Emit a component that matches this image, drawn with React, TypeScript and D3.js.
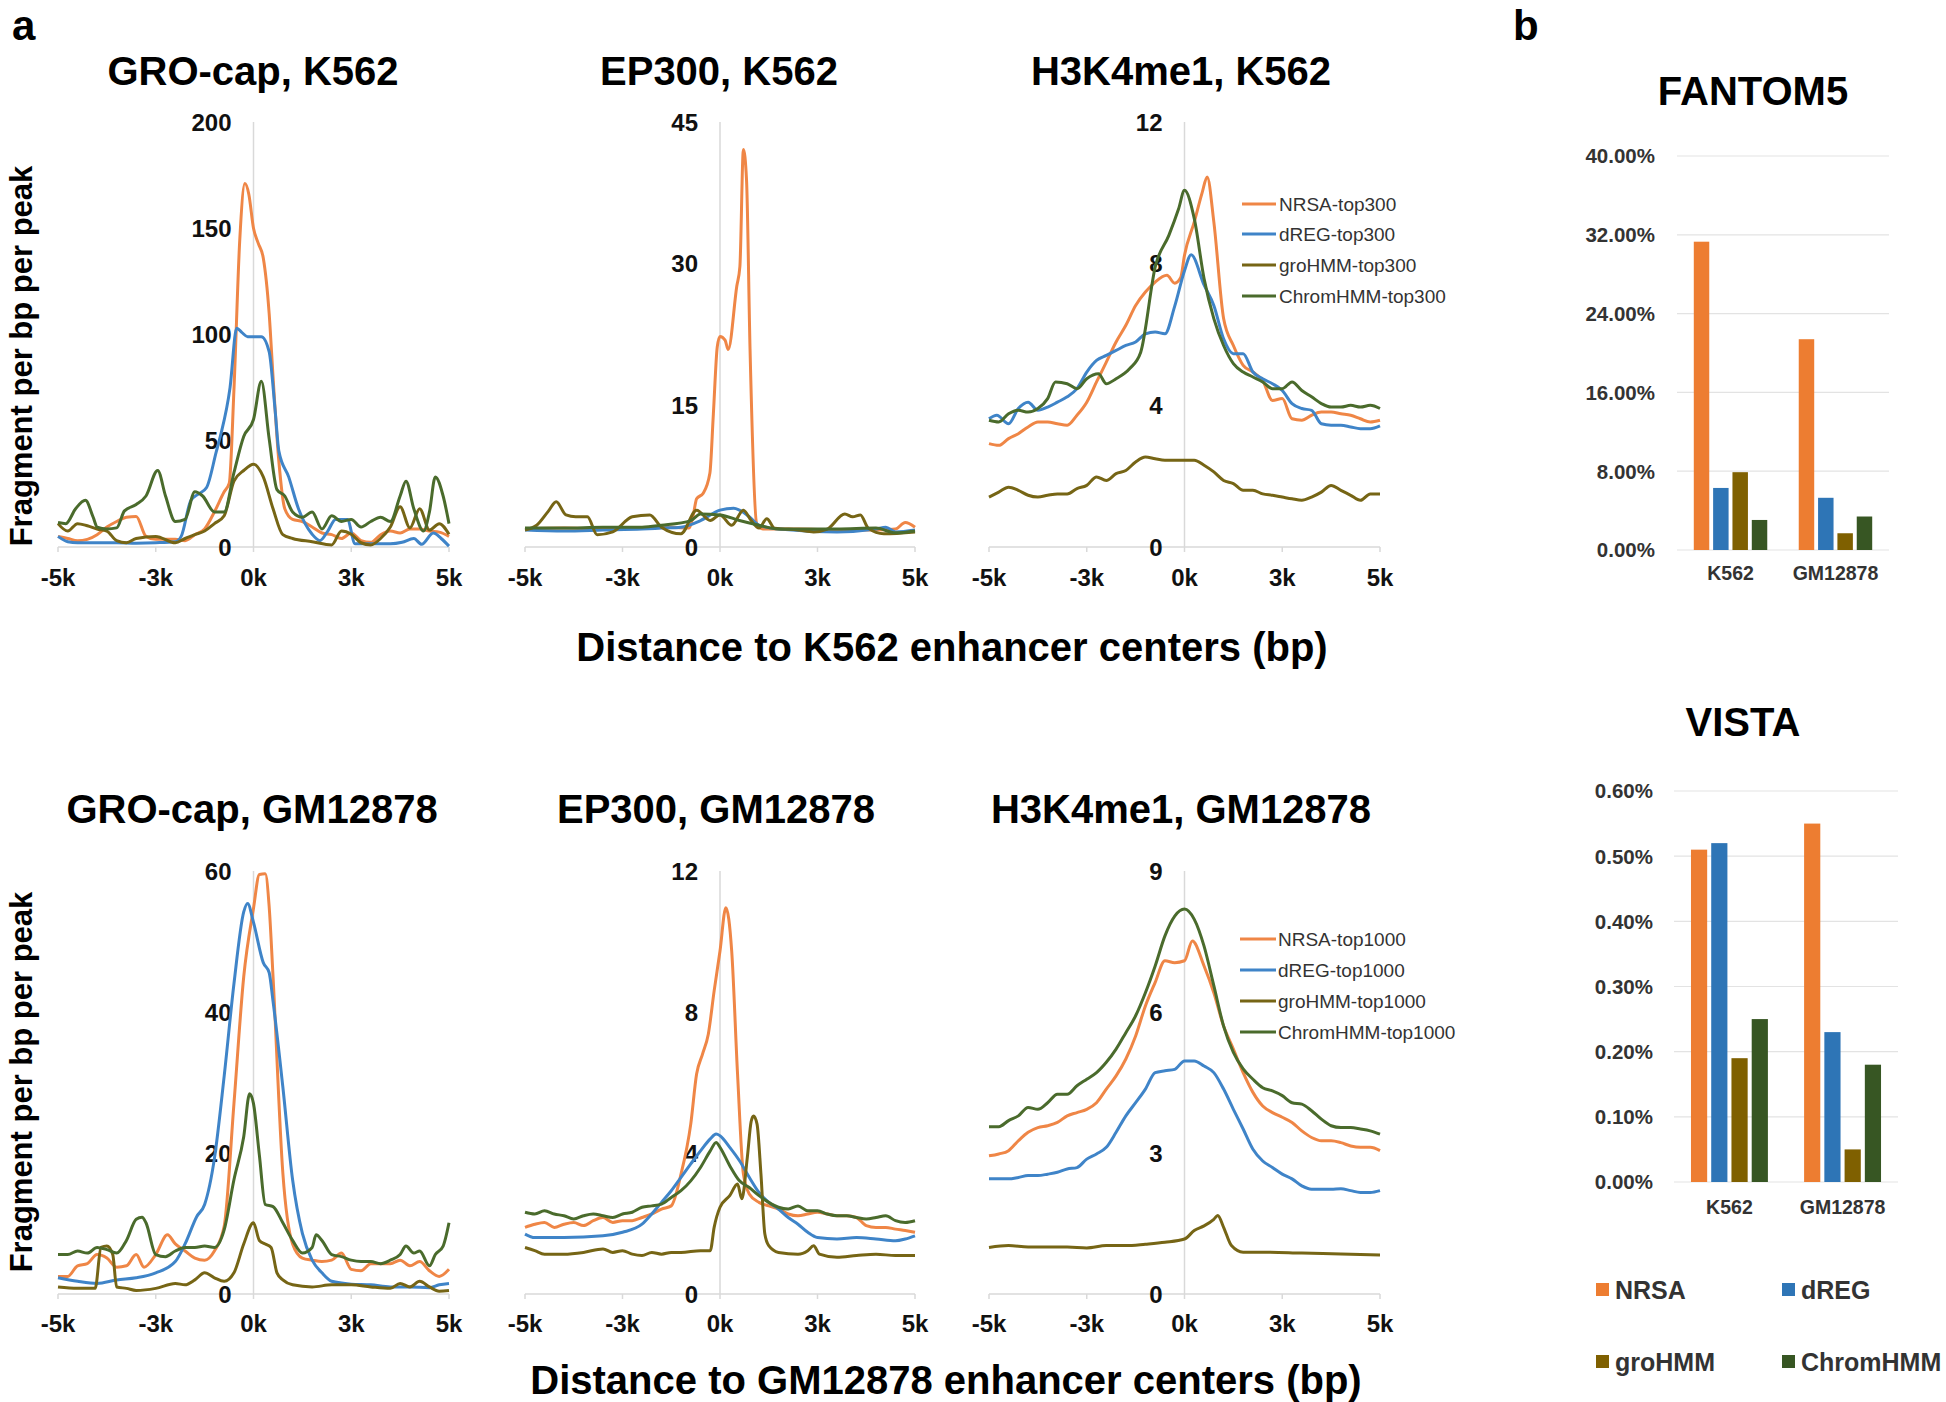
import React from "react";
import * as d3 from "d3";

const FONT = '"Liberation Sans", Arial, Helvetica, sans-serif';

const SERIES = ["NRSA", "dREG", "groHMM", "ChromHMM"];
const LINE_COLORS = ["#EF8646", "#3F84C8", "#766515", "#4A6B2C"];
const BAR_COLORS = ["#ED7D31", "#2E75B6", "#7F6000", "#375623"];

const X_TICKS = [-5, -2.5, 0, 2.5, 5];
const X_TICK_LABELS = ["-5k", "-3k", "0k", "3k", "5k"];

type P = [number, number];

// ---- GRO-cap, K562 ----
const GRO_K562_NRSA: P[] = [[-5,4.9],[-4.75,4],[-4.5,3],[-4.25,3.6],[-4,5.8],[-3.75,9.4],[-3.5,12],[-3.25,14],[-3.0,14.4],[-2.75,5],[-2.5,3.6],[-2,3.6],[-1.75,3],[-1.5,5.8],[-1.25,8.5],[-1,16.5],[-0.75,26],[-0.62,30],[-0.5,74],[-0.35,145],[-0.22,171],[-0.12,166],[0,150],[0.12,143],[0.25,136],[0.4,110],[0.5,80],[0.65,40],[0.8,18],[1,13],[1.25,12],[1.5,9.4],[1.75,6.6],[2,5.8],[2.25,4],[2.5,6.6],[2.75,3],[3,2.2],[3.25,5.8],[3.5,7.5],[3.75,6.6],[4,8.5],[4.25,8.5],[4.5,7.5],[4.75,7],[5,5]];
const GRO_K562_DREG: P[] = [[-5,5],[-4.75,2.5],[-4.5,2],[-4,2],[-3.5,2],[-3,1.8],[-2.5,2],[-2,2.5],[-1.85,5],[-1.6,22],[-1.4,25],[-1.2,28],[-0.95,45],[-0.85,52],[-0.6,75],[-0.43,103],[-0.3,101],[-0.15,99],[0,99],[0.2,99],[0.4,92],[0.55,65],[0.65,45],[0.9,33],[1.15,18],[1.5,6],[1.7,3],[1.9,7.5],[2.1,13],[2.4,13],[2.6,1.5],[3,1.5],[3.5,1.5],[3.8,2.2],[4.1,4],[4.3,1.3],[4.6,6.6],[4.8,4],[5,0.4]];
const GRO_K562_GROHMM: P[] = [[-5,11],[-4.75,7.5],[-4.5,11],[-4.25,10],[-4,8.5],[-3.75,7.5],[-3.5,3],[-3.25,2],[-3,4],[-2.5,5],[-2,2],[-1.75,4],[-1.5,5.8],[-1.25,7.5],[-1,11],[-0.75,14.7],[-0.5,31],[-0.25,36],[0,39],[0.25,33],[0.5,18],[0.75,5.8],[1,4],[1.5,2.5],[2,1],[2.25,7.5],[2.5,6],[2.75,2],[3,1],[3.25,4],[3.5,9.4],[3.75,19],[4,9],[4.25,18],[4.5,8],[4.75,11],[5,6]];
const GRO_K562_CHROM: P[] = [[-5,11.5],[-4.8,11],[-4.55,18],[-4.3,22],[-4.1,14],[-4,9.4],[-3.75,8.5],[-3.5,9],[-3.3,17],[-3.0,20],[-2.75,24],[-2.45,36],[-2.25,24],[-2,12],[-1.75,13],[-1.5,26],[-1.3,24],[-1,16.5],[-0.75,16.5],[-0.5,35],[-0.25,52],[0,60],[0.2,78],[0.4,51],[0.6,27],[0.8,24],[1,16.5],[1.25,14],[1.5,16.5],[1.75,8.5],[2,14.7],[2.25,12],[2.5,13],[2.75,9.4],[3,12],[3.25,14],[3.5,12],[3.75,24],[3.9,31],[4.1,18],[4.35,7.5],[4.5,16.5],[4.65,33],[4.85,24],[5,11]];

// ---- EP300, K562 ----
const EP_K562_NRSA: P[] = [[-5,1.9],[-4,2.0],[-3,1.9],[-2,2.0],[-1.25,2.1],[-0.8,2.0],[-0.68,3.5],[-0.6,5.1],[-0.43,5.7],[-0.26,7.8],[-0.17,14.1],[-0.07,21.2],[0,22.3],[0.13,21.9],[0.21,20.9],[0.43,27.6],[0.51,29.7],[0.6,42.1],[0.68,38.9],[0.77,21],[0.94,2.5],[1.1,1.9],[2,1.9],[3,1.8],[4,1.8],[4.5,1.9],[4.75,2.6],[5,2.1]];
const EP_K562_DREG: P[] = [[-5,1.8],[-4,1.7],[-3,1.8],[-2,1.9],[-1.5,2.0],[-1,2.1],[-0.5,2.8],[0,3.9],[0.35,4.1],[0.5,3.9],[0.75,3.2],[1,2.3],[1.5,1.9],[3,1.6],[4,1.9],[4.25,2.1],[4.5,1.6],[5,1.8]];
const EP_K562_GROHMM: P[] = [[-5,1.8],[-4.7,2.3],[-4.4,3.8],[-4.2,4.8],[-3.95,3.4],[-3.7,3.2],[-3.4,3.2],[-3.15,1.3],[-2.75,1.6],[-2.25,3.2],[-1.8,3.4],[-1.5,2.1],[-1.0,1.4],[-0.6,3.9],[-0.25,2.8],[0,3.4],[0.3,2.3],[0.6,3.9],[0.8,2.8],[1.0,2.0],[1.2,3.0],[1.4,2.0],[2,1.8],[2.4,1.6],[2.75,1.9],[3.2,3.5],[3.4,3.2],[3.6,3.4],[3.8,2.0],[4.2,1.4],[5,1.6]];
const EP_K562_CHROM: P[] = [[-5,2.0],[-4,2.0],[-3,2.1],[-2,2.1],[-1.5,2.3],[-0.75,2.8],[-0.5,3.5],[0,3.4],[0.5,2.8],[1,2.3],[1.5,1.9],[3,1.9],[4,2.0],[4.5,1.5],[5,1.7]];

// ---- H3K4me1, K562 ----
const H3_K562_NRSA: P[] = [[-5,2.92],[-4.75,2.87],[-4.5,3.06],[-4.25,3.2],[-4,3.39],[-3.75,3.53],[-3.5,3.53],[-3.25,3.48],[-3,3.44],[-2.75,3.72],[-2.5,4.09],[-2.25,4.66],[-2,5.22],[-1.75,5.79],[-1.5,6.26],[-1.25,6.82],[-1,7.2],[-0.75,7.48],[-0.45,7.67],[-0.25,7.45],[-0.1,7.6],[0,8.24],[0.25,9.18],[0.45,10.0],[0.58,10.45],[0.75,9.18],[1,6.45],[1.25,5.69],[1.5,5.13],[1.75,4.94],[2,4.7],[2.25,4.14],[2.5,4.19],[2.75,3.62],[3,3.58],[3.25,3.72],[3.5,3.81],[3.75,3.81],[4,3.76],[4.25,3.72],[4.5,3.62],[4.75,3.53],[5,3.58]];
const H3_K562_DREG: P[] = [[-5,3.62],[-4.8,3.72],[-4.5,3.48],[-4.25,3.91],[-4,4.09],[-3.75,3.86],[-3.5,3.95],[-3.25,4.09],[-3,4.24],[-2.75,4.47],[-2.5,4.94],[-2.25,5.27],[-2,5.41],[-1.75,5.55],[-1.5,5.69],[-1.25,5.79],[-1,6.02],[-0.75,6.07],[-0.5,6.02],[-0.25,6.8],[0,7.8],[0.17,8.25],[0.5,7.4],[0.75,6.82],[1,5.88],[1.25,5.46],[1.5,5.46],[1.75,4.94],[2,4.75],[2.25,4.61],[2.5,4.42],[2.75,4.05],[3,3.91],[3.25,3.86],[3.5,3.48],[3.75,3.44],[4,3.44],[4.25,3.39],[4.5,3.34],[4.75,3.34],[5,3.42]];
const H3_K562_GROHMM: P[] = [[-5,1.41],[-4.75,1.55],[-4.5,1.69],[-4.25,1.6],[-4,1.46],[-3.75,1.41],[-3.5,1.46],[-3.25,1.5],[-3,1.5],[-2.75,1.65],[-2.5,1.74],[-2.25,1.98],[-2,1.88],[-1.75,2.07],[-1.5,2.16],[-1.25,2.4],[-1,2.54],[-0.75,2.49],[-0.5,2.45],[-0.25,2.45],[0,2.45],[0.25,2.45],[0.5,2.31],[0.75,2.12],[1,1.88],[1.25,1.79],[1.5,1.6],[1.75,1.6],[2,1.5],[2.25,1.46],[2.5,1.41],[2.75,1.36],[3,1.32],[3.25,1.41],[3.5,1.55],[3.75,1.74],[4,1.6],[4.25,1.46],[4.5,1.32],[4.75,1.5],[5,1.5]];
const H3_K562_CHROM: P[] = [[-5,3.58],[-4.75,3.53],[-4.5,3.76],[-4.25,3.86],[-4,3.81],[-3.75,3.91],[-3.5,4.19],[-3.3,4.66],[-3,4.61],[-2.75,4.47],[-2.5,4.75],[-2.2,4.89],[-2,4.61],[-1.75,4.75],[-1.4,5.04],[-1.12,5.5],[-0.74,7.95],[-0.4,8.8],[-0.15,9.55],[0,10.07],[0.25,9.27],[0.5,7.58],[0.75,6.45],[1,5.69],[1.25,5.18],[1.5,4.94],[1.75,4.8],[2,4.66],[2.25,4.47],[2.5,4.47],[2.75,4.66],[3,4.42],[3.25,4.24],[3.5,4.05],[3.75,3.95],[4,3.95],[4.25,4.0],[4.5,3.95],[4.75,4.0],[5,3.91]];

// ---- GRO-cap, GM12878 ----
const GRO_GM_NRSA: P[] = [[-5,2.5],[-4.75,2.5],[-4.5,4],[-4.25,4.3],[-4,5.6],[-3.75,5.1],[-3.5,3.8],[-3.25,4],[-3,5.6],[-2.8,3.8],[-2.5,5.6],[-2.2,8.4],[-2,7.1],[-1.75,6.1],[-1.5,5.1],[-1.25,4.8],[-1,6.1],[-0.75,9.6],[-0.5,27],[-0.25,45],[0,54.7],[0.15,59.5],[0.3,59.6],[0.4,55],[0.5,45],[0.75,17.2],[1,7.1],[1.25,5.1],[1.5,4.8],[1.75,4.6],[2,4.8],[2.25,5.8],[2.5,3.5],[2.75,3.3],[3,4.3],[3.25,4.3],[3.5,4.3],[3.75,4.8],[4,4],[4.25,4.6],[4.5,3.3],[4.75,2.5],[5,3.5]];
const GRO_GM_DREG: P[] = [[-5,2.3],[-4.5,1.8],[-4,1.5],[-3.5,2],[-3,2.3],[-2.5,3],[-2,4.6],[-1.75,7.1],[-1.45,11],[-1.25,12.7],[-1,19.2],[-0.75,30.9],[-0.5,44],[-0.25,54.2],[-0.15,55.4],[0,52.7],[0.25,47],[0.4,45.6],[0.5,41.5],[0.75,29.4],[1,16.2],[1.25,8.6],[1.5,4.8],[1.75,3],[2,1.8],[2.5,1.4],[3,1.3],[3.5,1],[4,1],[4.5,0.9],[4.75,1.3],[5,1.5]];
const GRO_GM_GROHMM: P[] = [[-5,1],[-4.5,0.8],[-4.05,0.8],[-3.9,6.6],[-3.75,6.8],[-3.6,5.6],[-3.5,1],[-3.25,0.8],[-3,0.5],[-2.5,0.8],[-2,1.5],[-1.75,1.3],[-1.5,2],[-1.25,3],[-1,2.3],[-0.75,1.8],[-0.5,3],[-0.25,7.1],[0,10.1],[0.15,7.6],[0.3,7.1],[0.45,6.6],[0.6,3],[0.75,2],[1,1.3],[1.5,1],[2,1.3],[2.5,1.3],[3,1],[3.5,0.8],[3.75,1.5],[4,1],[4.25,1.8],[4.5,1],[4.75,0.4],[5,0.5]];
const GRO_GM_CHROM: P[] = [[-5,5.6],[-4.75,5.6],[-4.5,6.1],[-4.25,5.8],[-4,6.6],[-3.75,6.3],[-3.5,5.8],[-3.25,7.6],[-3,10.6],[-2.85,10.9],[-2.75,10.1],[-2.5,5.6],[-2.25,5.3],[-2,6.1],[-1.75,6.6],[-1.5,6.6],[-1.25,6.8],[-1,6.6],[-0.75,9.1],[-0.5,16.2],[-0.25,22.3],[-0.1,28.4],[0,27],[0.15,19.7],[0.3,12.7],[0.5,12.4],[0.75,10.1],[1,7.6],[1.25,5.8],[1.5,6.6],[1.6,8.4],[1.75,7.6],[2,5.6],[2.25,5.3],[2.5,4.8],[2.75,4.6],[3,4.6],[3.25,4.3],[3.5,4.8],[3.75,5.6],[3.9,6.8],[4.1,5.8],[4.25,6.1],[4.5,4],[4.65,5.6],[4.85,6.8],[5,10.1]];

// ---- EP300, GM12878 ----
const EP_GM_NRSA: P[] = [[-5,1.89],[-4.75,1.98],[-4.5,2.03],[-4.25,1.89],[-4,1.98],[-3.75,2.03],[-3.5,1.94],[-3.25,2.08],[-3,2.17],[-2.75,2.03],[-2.5,2.08],[-2.25,2.08],[-2,2.17],[-1.75,2.27],[-1.5,2.41],[-1.25,2.5],[-1,3.4],[-0.75,4.82],[-0.6,6.24],[-0.45,6.8],[-0.3,7.37],[-0.15,8.6],[0,9.73],[0.15,10.96],[0.3,9.73],[0.45,6.24],[0.6,3.4],[0.75,2.84],[1,2.6],[1.25,2.5],[1.5,2.41],[1.75,2.27],[2,2.22],[2.25,2.27],[2.5,2.32],[2.75,2.27],[3,2.22],[3.25,2.22],[3.5,2.17],[3.75,1.94],[4,1.89],[4.25,1.89],[4.5,1.84],[4.75,1.8],[5,1.75]];
const EP_GM_DREG: P[] = [[-5,1.7],[-4.75,1.6],[-4,1.6],[-3,1.65],[-2.5,1.75],[-2,1.98],[-1.75,2.27],[-1.5,2.6],[-1.25,2.93],[-1,3.31],[-0.75,3.69],[-0.5,4.06],[-0.25,4.4],[-0.1,4.54],[0,4.49],[0.25,4.16],[0.5,3.78],[0.75,3.31],[1,2.88],[1.25,2.6],[1.5,2.41],[1.75,2.17],[2,1.98],[2.25,1.75],[2.5,1.6],[3,1.56],[3.5,1.6],[4,1.56],[4.5,1.51],[4.75,1.56],[5,1.65]];
const EP_GM_GROHMM: P[] = [[-5,1.32],[-4.75,1.23],[-4.5,1.13],[-4,1.13],[-3.5,1.18],[-3,1.28],[-2.75,1.18],[-2.5,1.23],[-2.25,1.13],[-2,1.09],[-1.75,1.18],[-1.5,1.13],[-1.25,1.18],[-1,1.18],[-0.5,1.23],[-0.25,1.23],[-0.15,1.89],[0,2.46],[0.25,2.79],[0.45,3.12],[0.56,2.7],[0.7,3.87],[0.8,4.9],[0.86,5.05],[0.95,4.82],[1.05,3.4],[1.15,1.7],[1.25,1.37],[1.5,1.18],[2,1.13],[2.25,1.23],[2.4,1.37],[2.55,1.13],[3,1.04],[3.5,1.09],[4,1.13],[4.5,1.09],[5,1.09]];
const EP_GM_CHROM: P[] = [[-5,2.32],[-4.75,2.27],[-4.5,2.36],[-4.25,2.27],[-4,2.22],[-3.75,2.13],[-3.5,2.22],[-3.25,2.27],[-3,2.22],[-2.75,2.17],[-2.5,2.27],[-2.25,2.32],[-2,2.46],[-1.75,2.5],[-1.5,2.55],[-1.25,2.74],[-1,2.93],[-0.75,3.21],[-0.5,3.59],[-0.25,4.06],[-0.1,4.3],[0,4.16],[0.25,3.64],[0.5,3.21],[0.75,3.02],[1,2.79],[1.25,2.6],[1.5,2.46],[1.75,2.41],[2,2.5],[2.25,2.36],[2.5,2.36],[2.75,2.27],[3,2.22],[3.25,2.22],[3.5,2.17],[3.75,2.13],[4,2.17],[4.25,2.22],[4.5,2.08],[4.75,2.03],[5,2.08]];

// ---- H3K4me1, GM12878 ----
const H3_GM_NRSA: P[] = [[-5,2.94],[-4.75,2.98],[-4.5,3.05],[-4.25,3.26],[-4,3.44],[-3.75,3.54],[-3.5,3.58],[-3.25,3.65],[-3,3.79],[-2.75,3.86],[-2.5,3.93],[-2.25,4.07],[-2,4.36],[-1.75,4.64],[-1.5,5.0],[-1.25,5.49],[-1,6.13],[-0.75,6.63],[-0.5,7.09],[-0.25,7.05],[0,7.09],[0.2,7.51],[0.5,6.98],[0.75,6.41],[1,5.7],[1.25,5.21],[1.5,4.71],[1.75,4.29],[2,4.0],[2.25,3.86],[2.5,3.76],[2.75,3.65],[3,3.47],[3.25,3.33],[3.5,3.26],[3.75,3.26],[4,3.22],[4.25,3.15],[4.5,3.12],[4.75,3.12],[5,3.05]];
const H3_GM_DREG: P[] = [[-5,2.45],[-4.75,2.45],[-4.5,2.45],[-4.25,2.48],[-4,2.52],[-3.75,2.52],[-3.5,2.55],[-3.25,2.59],[-3,2.66],[-2.75,2.69],[-2.5,2.87],[-2.25,2.98],[-2,3.12],[-1.75,3.44],[-1.5,3.79],[-1.25,4.07],[-1,4.36],[-0.75,4.71],[-0.5,4.75],[-0.25,4.78],[0,4.96],[0.25,4.96],[0.5,4.85],[0.75,4.71],[1,4.36],[1.25,3.93],[1.5,3.51],[1.75,3.08],[2,2.83],[2.25,2.69],[2.5,2.55],[2.75,2.45],[3,2.3],[3.25,2.23],[3.5,2.23],[3.75,2.23],[4,2.24],[4.25,2.2],[4.5,2.16],[4.75,2.16],[5,2.2]];
const H3_GM_GROHMM: P[] = [[-5,0.99],[-4.5,1.03],[-4,1.0],[-3.5,1.0],[-3,1.0],[-2.5,0.98],[-2,1.03],[-1.5,1.03],[-1,1.06],[-0.5,1.1],[0,1.17],[0.25,1.35],[0.5,1.45],[0.75,1.59],[0.85,1.67],[1,1.42],[1.2,1.03],[1.5,0.89],[2,0.89],[3,0.87],[4,0.85],[5,0.83]];
const H3_GM_CHROM: P[] = [[-5,3.56],[-4.75,3.56],[-4.5,3.69],[-4.25,3.79],[-4,3.97],[-3.75,3.93],[-3.5,4.07],[-3.25,4.25],[-3,4.25],[-2.75,4.43],[-2.5,4.57],[-2.25,4.71],[-2,4.93],[-1.75,5.21],[-1.5,5.56],[-1.25,5.92],[-1,6.41],[-0.75,6.98],[-0.5,7.62],[-0.25,8.04],[0,8.19],[0.25,7.97],[0.5,7.4],[0.75,6.56],[1,5.7],[1.25,5.14],[1.5,4.79],[1.75,4.57],[2,4.39],[2.25,4.32],[2.5,4.22],[2.75,4.07],[3,4.04],[3.25,3.9],[3.5,3.72],[3.75,3.58],[4,3.54],[4.25,3.54],[4.5,3.51],[4.75,3.47],[5,3.4]];

// ---- bar charts (panel b) ----
const BAR_CATEGORIES = ["K562", "GM12878"];
const FANTOM5_NRSA = [31.3, 21.4];
const FANTOM5_DREG = [6.3, 5.3];
const FANTOM5_GROHMM = [7.9, 1.7];
const FANTOM5_CHROMHMM = [3.05, 3.4];
const FANTOM5_TICKS = [0, 8, 16, 24, 32, 40];
const VISTA_NRSA = [0.51, 0.55];
const VISTA_DREG = [0.52, 0.23];
const VISTA_GROHMM = [0.19, 0.05];
const VISTA_CHROMHMM = [0.25, 0.18];
const VISTA_TICKS = [0, 0.1, 0.2, 0.3, 0.4, 0.5, 0.6];

const LEGEND_TOP300 = ["NRSA-top300", "dREG-top300", "groHMM-top300", "ChromHMM-top300"];
const LEGEND_TOP1000 = ["NRSA-top1000", "dREG-top1000", "groHMM-top1000", "ChromHMM-top1000"];

const COLS = [
  { x0: 58, x1: 449 },
  { x0: 525, x1: 915 },
  { x0: 989, x1: 1380 },
];
const ROWS = [
  { yTop: 122, yBottom: 547, titleBase: 85, tickY: 577 },
  { yTop: 871, yBottom: 1294, titleBase: 823, tickY: 1323 },
];

type Panel = {
  title: string;
  titleX: number;
  row: number;
  col: number;
  yTicks: number[];
  series: P[][];
  legend?: { labels: string[]; lineX0: number; lineX1: number; textX: number; ys: number[] };
};

const PANELS: Panel[] = [
  { title: "GRO-cap, K562", titleX: 253, row: 0, col: 0, yTicks: [0, 50, 100, 150, 200], series: [GRO_K562_NRSA, GRO_K562_DREG, GRO_K562_GROHMM, GRO_K562_CHROM] },
  { title: "EP300, K562", titleX: 719, row: 0, col: 1, yTicks: [0, 15, 30, 45], series: [EP_K562_NRSA, EP_K562_DREG, EP_K562_GROHMM, EP_K562_CHROM] },
  { title: "H3K4me1, K562", titleX: 1181, row: 0, col: 2, yTicks: [0, 4, 8, 12], series: [H3_K562_NRSA, H3_K562_DREG, H3_K562_GROHMM, H3_K562_CHROM],
    legend: { labels: LEGEND_TOP300, lineX0: 1242, lineX1: 1276, textX: 1279, ys: [204, 234, 265, 296] } },
  { title: "GRO-cap, GM12878", titleX: 252, row: 1, col: 0, yTicks: [0, 20, 40, 60], series: [GRO_GM_NRSA, GRO_GM_DREG, GRO_GM_GROHMM, GRO_GM_CHROM] },
  { title: "EP300, GM12878", titleX: 716, row: 1, col: 1, yTicks: [0, 4, 8, 12], series: [EP_GM_NRSA, EP_GM_DREG, EP_GM_GROHMM, EP_GM_CHROM] },
  { title: "H3K4me1, GM12878", titleX: 1181, row: 1, col: 2, yTicks: [0, 3, 6, 9], series: [H3_GM_NRSA, H3_GM_DREG, H3_GM_GROHMM, H3_GM_CHROM],
    legend: { labels: LEGEND_TOP1000, lineX0: 1240, lineX1: 1276, textX: 1278, ys: [939, 970, 1001, 1032] } },
];

function LinePanel({ p }: { p: Panel }) {
  const c = COLS[p.col];
  const r = ROWS[p.row];
  const yMax = p.yTicks[p.yTicks.length - 1];
  const xs = d3.scaleLinear().domain([-5, 5]).range([c.x0, c.x1]);
  const ys = d3.scaleLinear().domain([0, yMax]).range([r.yBottom, r.yTop]);
  const line = d3
    .line<P>()
    .x((d) => xs(d[0]))
    .y((d) => ys(d[1]))
    .curve(d3.curveMonotoneX);
  const x0 = xs(0);
  return (
    <g>
      <text x={p.titleX} y={r.titleBase} textAnchor="middle" fontFamily={FONT} fontWeight="bold" fontSize={40} fill="#000">
        {p.title}
      </text>
      <line x1={x0} x2={x0} y1={ys(yMax)} y2={ys(0)} stroke="#D9D9D9" strokeWidth={1.5} />
      <line x1={xs(-5)} x2={xs(5)} y1={ys(0)} y2={ys(0)} stroke="#D9D9D9" strokeWidth={1.5} />
      {X_TICKS.map((t) => (
        <line key={"xt" + t} x1={xs(t)} x2={xs(t)} y1={ys(0)} y2={ys(0) + 5} stroke="#D9D9D9" strokeWidth={1.5} />
      ))}
      {p.yTicks.map((t) => (
        <text key={"yl" + t} x={x0 - 22} y={ys(t)} dy="0.36em" textAnchor="end" fontFamily={FONT} fontWeight="bold" fontSize={24} fill="#111">
          {t}
        </text>
      ))}
      {X_TICKS.map((t, i) => (
        <text key={"xl" + t} x={xs(t)} y={r.tickY} dy="0.36em" textAnchor="middle" fontFamily={FONT} fontWeight="bold" fontSize={24} fill="#111">
          {X_TICK_LABELS[i]}
        </text>
      ))}
      {p.series.map((s, i) => (
        <path key={"s" + i} d={line(s) || ""} fill="none" stroke={LINE_COLORS[i]} strokeWidth={3} strokeLinejoin="round" />
      ))}
      {p.legend &&
        p.legend.labels.map((lab, i) => (
          <g key={"lg" + i}>
            <line x1={p.legend!.lineX0} x2={p.legend!.lineX1} y1={p.legend!.ys[i]} y2={p.legend!.ys[i]} stroke={LINE_COLORS[i]} strokeWidth={3} />
            <text x={p.legend!.textX} y={p.legend!.ys[i]} dy="0.36em" fontFamily={FONT} fontSize={19} fill="#333">
              {lab}
            </text>
          </g>
        ))}
    </g>
  );
}

type BarCfg = {
  title: string;
  titleX: number;
  titleBase: number;
  x0: number;
  x1: number;
  yTop: number;
  yBottom: number;
  ticks: number[];
  labelRight: number;
  catY: number;
  values: number[][];
  outer: number;
  inner: number;
};

const BARS: BarCfg[] = [
  { title: "FANTOM5", titleX: 1753, titleBase: 105, x0: 1677, x1: 1889, yTop: 156, yBottom: 550, ticks: FANTOM5_TICKS, labelRight: 1655, catY: 573,
    values: [FANTOM5_NRSA, FANTOM5_DREG, FANTOM5_GROHMM, FANTOM5_CHROMHMM], outer: 0.16, inner: 0.3 },
  { title: "VISTA", titleX: 1743, titleBase: 736, x0: 1674, x1: 1898, yTop: 791, yBottom: 1182, ticks: VISTA_TICKS, labelRight: 1653, catY: 1207,
    values: [VISTA_NRSA, VISTA_DREG, VISTA_GROHMM, VISTA_CHROMHMM], outer: 0.15, inner: 0.32 },
];

function BarPanel({ b }: { b: BarCfg }) {
  const yMax = b.ticks[b.ticks.length - 1];
  const ys = d3.scaleLinear().domain([0, yMax]).range([b.yBottom, b.yTop]);
  const xc = d3.scaleBand<string>().domain(BAR_CATEGORIES).range([b.x0, b.x1]).paddingInner(b.inner).paddingOuter(b.outer);
  const xsr = d3.scaleBand<string>().domain(SERIES).range([0, xc.bandwidth()]).paddingInner(0.2).paddingOuter(0);
  return (
    <g>
      <text x={b.titleX} y={b.titleBase} textAnchor="middle" fontFamily={FONT} fontWeight="bold" fontSize={40} fill="#000">
        {b.title}
      </text>
      {b.ticks.map((t) => (
        <g key={"g" + t}>
          <line x1={b.x0} x2={b.x1} y1={ys(t)} y2={ys(t)} stroke="#E3E3E3" strokeWidth={1.2} />
          <text x={b.labelRight} y={ys(t)} dy="0.36em" textAnchor="end" fontFamily={FONT} fontWeight="bold" fontSize={20.5} fill="#333">
            {t.toFixed(2) + "%"}
          </text>
        </g>
      ))}
      {BAR_CATEGORIES.map((cat, ci) => (
        <g key={cat}>
          {SERIES.map((s, si) => (
            <rect
              key={s}
              x={(xc(cat) as number) + (xsr(s) as number)}
              y={ys(b.values[si][ci])}
              width={xsr.bandwidth()}
              height={ys(0) - ys(b.values[si][ci])}
              fill={BAR_COLORS[si]}
            />
          ))}
          <text x={(xc(cat) as number) + xc.bandwidth() / 2} y={b.catY} dy="0.36em" textAnchor="middle" fontFamily={FONT} fontWeight="bold" fontSize={19.5} fill="#333">
            {cat}
          </text>
        </g>
      ))}
    </g>
  );
}

const BAR_LEGEND = [
  { x: 1596, y: 1290 },
  { x: 1782, y: 1290 },
  { x: 1596, y: 1362 },
  { x: 1782, y: 1362 },
];

export default function App() {
  return (
    <div style={{ position: "absolute", left: 0, top: 0 }}>
      <svg width={1946} height={1402} viewBox="0 0 1946 1402" style={{ display: "block", background: "#fff" }}>
        <rect x={0} y={0} width={1946} height={1402} fill="#fff" />
        <text x={12} y={40} fontFamily={FONT} fontWeight="bold" fontSize={42} fill="#000">a</text>
        <text x={1513} y={40} fontFamily={FONT} fontWeight="bold" fontSize={42} fill="#000">b</text>
        {PANELS.map((p, i) => (
          <LinePanel key={i} p={p} />
        ))}
        <text transform="translate(32,356) rotate(-90)" textAnchor="middle" fontFamily={FONT} fontWeight="bold" fontSize={31} fill="#000">
          Fragment per bp per peak
        </text>
        <text transform="translate(32,1082) rotate(-90)" textAnchor="middle" fontFamily={FONT} fontWeight="bold" fontSize={31} fill="#000">
          Fragment per bp per peak
        </text>
        <text x={952} y={661} textAnchor="middle" fontFamily={FONT} fontWeight="bold" fontSize={40} fill="#000">
          Distance to K562 enhancer centers (bp)
        </text>
        <text x={946} y={1394} textAnchor="middle" fontFamily={FONT} fontWeight="bold" fontSize={40} fill="#000">
          Distance to GM12878 enhancer centers (bp)
        </text>
        {BARS.map((b, i) => (
          <BarPanel key={i} b={b} />
        ))}
        {SERIES.map((s, i) => (
          <g key={"bl" + s}>
            <rect x={BAR_LEGEND[i].x} y={BAR_LEGEND[i].y - 7} width={13} height={13} fill={BAR_COLORS[i]} />
            <text x={BAR_LEGEND[i].x + 19} y={BAR_LEGEND[i].y} dy="0.36em" fontFamily={FONT} fontWeight="bold" fontSize={25} fill="#333">
              {s}
            </text>
          </g>
        ))}
      </svg>
    </div>
  );
}
